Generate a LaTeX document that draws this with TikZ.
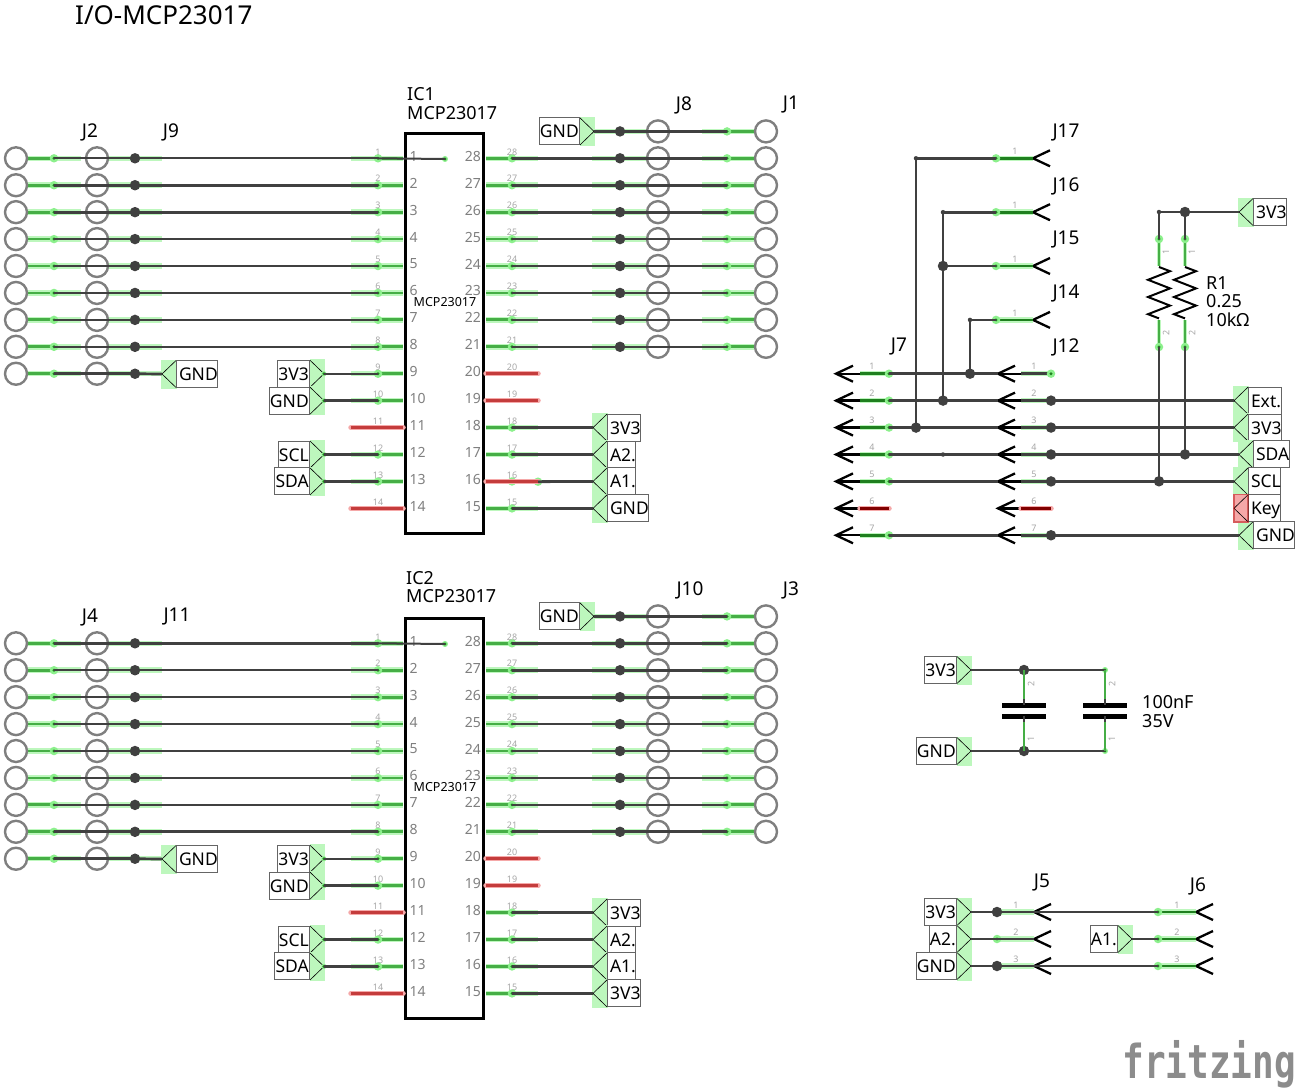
\documentclass[tikz,border=0pt]{standalone}
\usepackage{fontspec}
\usepackage{graphicx}
\setmainfont{Noto Sans}
\newfontfamily\logofont{DejaVu Sans Mono}
\definecolor{wiregray}{HTML}{404040}
\definecolor{ringgray}{HTML}{7F7F7F}
\definecolor{halogreen}{HTML}{BDF7BD}
\definecolor{leggreen}{HTML}{46AE46}
\definecolor{deepgreen}{HTML}{1F7F1F}
\definecolor{dotgreen}{HTML}{8CF08C}
\definecolor{halored}{HTML}{F5A8A8}
\definecolor{pinred}{HTML}{C43C3C}
\definecolor{numgray}{HTML}{A6A6A6}
\tikzset{
  wire/.style={draw=wiregray, line width=2.7pt},
  thinwire/.style={draw=wiregray, line width=2pt},
  halo/.style={draw=halogreen, line width=5.5pt},
  legline/.style={draw=leggreen, line width=2.8pt},
  deepleg/.style={draw=deepgreen, line width=2.8pt},
  redhalo/.style={draw=halored, line width=5.5pt, line cap=round},
  redline/.style={draw=pinred, line width=3pt},
  ring/.style={circle, draw=ringgray, line width=2.4pt, minimum size=22pt, inner sep=0pt},
  junct/.style={circle, fill=wiregray, minimum size=10.5pt, inner sep=0pt},
  tinyjunct/.style={circle, fill=wiregray, minimum size=4.5pt, inner sep=0pt},
  gdot/.style={circle, fill=dotgreen, minimum size=8.5pt, inner sep=0pt,
    path picture={\fill[deepgreen] (path picture bounding box.center) circle (1.6pt);}},
  pinnum/.style={font=\fontsize{9}{9}\selectfont, text=numgray, inner sep=0pt},
  chipnum/.style={font=\fontsize{14}{14}\selectfont, text=ringgray, inner sep=0pt},
  lbl/.style={font=\fontsize{18}{18}\selectfont, inner sep=0pt},
  jlbl/.style={font=\fontsize{19}{19}\selectfont, inner sep=0pt},
  tagbox/.style={draw=ringgray!120, fill=white, line width=1pt, inner xsep=0.7pt, inner ysep=0pt,
    minimum height=27pt, text height=13pt, text depth=0pt, font=\fontsize{17.5}{17.5}\selectfont},
  chev/.style={draw=black, line width=2.3pt},
}
% net label, text left of tip: name, tip x, y, text
\newcommand{\tagleft}[4]{%
  \fill[halogreen] (#2-14.5,#3-14.5) rectangle (#2+1,#3+14.5);
  \node[tagbox, anchor=east] (#1box) at (#2-14,#3) {#4};
  \draw[black, line width=0.6pt] (#2-14,#3-13.5) -- (#2,#3) -- (#2-14,#3+13.5);
  \coordinate (#1) at (#2,#3);}
% net label, text right of tip: fill colour, name, tip x, y, text
\newcommand{\tagright}[5][halogreen]{%
  \fill[#1] (#3-1,#4-14.5) rectangle (#3+14.5,#4+14.5);
  \node[tagbox, inner xsep=0pt, anchor=west, execute at begin node=\kern2.5pt] (#2box) at (#3+14,#4) {#5};
  \draw[black, line width=0.6pt] (#3+14,#4-13.5) -- (#3,#4) -- (#3+14,#4+13.5);
  \coordinate (#2) at (#3,#4);}
% female pin tip, opening to the right: name, x, y
\newcommand{\chevron}[3]{%
  \coordinate (#1) at (#2,#3);
  \draw[chev] (#2+17,#3-8) -- (#1) -- (#2+17,#3+8);}
% one MCP23017 with its headers: name, y offset, left wire widths, right wire widths, tag of pin 15
\newcommand{\mcpblock}[5]{%
\begin{scope}[yshift=#2]
  % chip body
  \node[draw=black, line width=3.4pt, minimum width=78pt, minimum height=400pt, inner sep=0pt] (#1) at (444.5,333.5) {};
  \node[font=\fontsize{12.5}{12.5}\selectfont, inner sep=0pt] (#1type) at (445,302) {MCP23017};
  % left headers and pins 1 to 8
  \foreach \i/\lw in {#3} {
    \pgfmathsetmacro\ry{158.3+26.93*(\i-1)}
    \draw[halo] (27,\ry) -- (81,\ry);
    \draw[halo] (108,\ry) -- (162,\ry);
    \draw[legline] (27,\ry) -- (54,\ry);
    \node[ring] (#1a\i) at (16,\ry) {};
    \node[ring] (#1b\i) at (97,\ry) {};
    \node[gdot] (#1c\i) at (54,\ry) {};
    \node[junct] (#1d\i) at (135,\ry) {};
    \pgfmathtruncatemacro\tst{\i<9 ? 1 : 0}
    \ifnum\tst=1
      \draw[halo] (351,\ry) -- (403,\ry);
      \draw[legline] (378,\ry) -- (403,\ry);
      \node[gdot] (#1p\i) at (378,\ry) {};
      \node[pinnum] (#1n\i) at (378,\ry-6.5) {\i};
      \node[chipnum, anchor=west] (#1m\i) at (409.5,\ry-2) {\i};
      \draw[draw=wiregray, line width=\lw pt] (#1c\i.center) -- (#1p\i.center);
    \else
      \draw[draw=wiregray, line width=\lw pt] (#1c\i.center) -- (#1d\i.center);
    \fi}
  % pin 1 runs on into the chip
  \node[gdot, minimum size=6pt] (#1e) at (445,159) {};
  \draw[thinwire] (#1p1.center) -- (#1e.center);
  % GND of the ninth left header
  \tagright{#1gl}{162}{374}{GND}
  \draw[wire] (#1d9.center) -- (#1gl);
  % left side pins 9 to 14
  \foreach \i/\txt/\lw in {9/3V3/2, 10/GND/2.7, 12/SCL/2.7, 13/SDA/2.7} {
    \pgfmathsetmacro\ry{158.3+26.93*(\i-1)}
    \draw[halo] (351,\ry) -- (403,\ry);
    \draw[legline] (378,\ry) -- (403,\ry);
    \node[gdot] (#1p\i) at (378,\ry) {};
    \tagleft{#1t\i}{324}{\ry}{\txt}
    \node[gdot, minimum size=5pt] (#1q\i) at (324,\ry) {};
    \draw[draw=wiregray, line width=\lw pt] (#1q\i.center) -- (#1p\i.center);
    \node[pinnum] (#1n\i) at (378,\ry-6.5) {\i};
    \node[chipnum, anchor=west] (#1m\i) at (409.5,\ry-2) {\i};}
  \foreach \i in {11,14} {
    \pgfmathsetmacro\ry{158.3+26.93*(\i-1)}
    \draw[redhalo] (351,\ry) -- (403,\ry);
    \draw[redline] (351,\ry) -- (403,\ry);
    \node[pinnum] (#1n\i) at (378,\ry-6.5) {\i};
    \node[chipnum, anchor=west] (#1m\i) at (409.5,\ry-2) {\i};}
  % GND on top of the right headers
  \draw[halo] (594,131.4) -- (646,131.4);
  \draw[halo] (702,131.4) -- (754,131.4);
  \draw[legline] (727,131.4) -- (754,131.4);
  \tagleft{#1tg}{594}{131.4}{GND}
  \node[junct] (#1dg) at (620,131.4) {};
  \node[ring] (#1rg) at (658,131.4) {};
  \node[ring] (#1sg) at (766,131.4) {};
  \node[gdot] (#1gg) at (727,131.4) {};
  \draw[wire] (#1tg) -- (#1gg.center);
  % right side pins 28 to 21 with headers
  \foreach \i/\lw in {#4} {
    \pgfmathsetmacro\ry{158.3+26.93*(\i-1)}
    \pgfmathtruncatemacro\pn{29-\i}
    \draw[halo] (486,\ry) -- (538,\ry);
    \draw[legline] (486,\ry) -- (512,\ry);
    \draw[halo] (592,\ry) -- (646,\ry);
    \draw[halo] (702,\ry) -- (754,\ry);
    \draw[legline] (727,\ry) -- (754,\ry);
    \node[gdot] (#1u\i) at (512,\ry) {};
    \node[gdot] (#1v\i) at (727,\ry) {};
    \node[junct] (#1w\i) at (620,\ry) {};
    \node[ring] (#1x\i) at (658,\ry) {};
    \node[ring] (#1y\i) at (766,\ry) {};
    \node[pinnum] (#1n\pn) at (512,\ry-6.5) {\pn};
    \node[chipnum, anchor=east] (#1m\pn) at (481,\ry-2) {\pn};
    \draw[draw=wiregray, line width=\lw pt] (#1u\i.center) -- (#1v\i.center);}
  % pins 20 and 19 stay open
  \foreach \i in {9,10} {
    \pgfmathsetmacro\ry{158.3+26.93*(\i-1)}
    \pgfmathtruncatemacro\pn{29-\i}
    \draw[redhalo] (486,\ry) -- (538,\ry);
    \draw[redline] (486,\ry) -- (538,\ry);
    \node[pinnum] (#1n\pn) at (512,\ry-6.5) {\pn};
    \node[chipnum, anchor=east] (#1m\pn) at (481,\ry-2) {\pn};}
  % pins 18 to 15 go to net labels
  \foreach \i/\txt in {11/3V3, 12/A2., 13/A1., 14/#5} {
    \pgfmathsetmacro\ry{158.3+26.93*(\i-1)}
    \pgfmathtruncatemacro\pn{29-\i}
    \draw[halo] (486,\ry) -- (538,\ry);
    \draw[legline] (486,\ry) -- (512,\ry);
    \node[gdot] (#1u\i) at (512,\ry) {};
    \tagright{#1z\i}{593}{\ry}{\txt}
    \draw[wire] (#1u\i.center) -- (#1z\i);
    \node[pinnum] (#1n\pn) at (512,\ry-6.5) {\pn};
    \node[chipnum, anchor=east] (#1m\pn) at (481,\ry-2) {\pn};}
\end{scope}}

\begin{document}
\begin{tikzpicture}[x=1pt, y=-1pt]
  \useasboundingbox (0,0) rectangle (1296,1089);
  \node[font=\fontsize{26}{26}\selectfont, anchor=west, inner sep=0pt] (title) at (75,15) {I/O-MCP23017};

  % First chip
  \mcpblock{A}{0pt}{1/2.4,2/2.7,3/2.7,4/2.7,5/2,6/2,7/2,8/2,9/2.7}{1/2.7,2/2.7,3/2.7,4/2.7,5/2,6/2,7/2,8/2}{GND}
  % Pin 16 of the first chip is left open up to the wire
  \coordinate (Ar) at (486,481.7);
  \node[gdot] (Ars) at (538,481.7) {};
  \draw[redhalo] (Ar) -- (Ars.center);
  \draw[redline] (Ar) -- (Ars.center);
  \draw[wire] (Ars.center) -- (Az13);
  \node[lbl, anchor=west] (ic1a) at (407,94) {IC1};
  \node[lbl, anchor=west] (ic1b) at (407,113) {MCP23017};
  \node[jlbl] (j2) at (90,132) {J2};
  \node[jlbl] (j9) at (171,132) {J9};
  \node[jlbl] (j8) at (684,105) {J8};
  \node[jlbl] (j1) at (791,105) {J1};

  % Second chip
  \mcpblock{B}{-485pt}{1/2.4,2/2,3/2,4/2,5/2,6/2,7/2.7,8/2.7,9/2.7}{1/2.7,2/2.7,3/2.7,4/2.7,5/2.7,6/2.7,7/2.7,8/2.7}{3V3}
  \node[lbl, anchor=west] (ic2a) at (406,578) {IC2};
  \node[lbl, anchor=west] (ic2b) at (406,596) {MCP23017};
  \node[jlbl] (j4) at (90,617) {J4};
  \node[jlbl] (j11) at (177,617) {J11};
  \node[jlbl] (j10) at (690,590) {J10};
  \node[jlbl] (j3) at (791,590) {J3};

  % Double row of seven pins
  \foreach \i in {1,...,7} {
    \pgfmathsetmacro\ry{373.7+26.93*(\i-1)}
    \chevron{Ja\i}{836}{\ry}
    \chevron{Jb\i}{998}{\ry}
    \coordinate (Jc\i) at (860,\ry);
    \coordinate (Jd\i) at (1021,\ry);
    \draw[chev] (Ja\i) -- (Jc\i);
    \draw[chev] (Jb\i) -- (Jd\i);
    \node[pinnum] (Jn\i) at (872,\ry-7) {\i};
    \node[pinnum] (Jm\i) at (1034,\ry-7) {\i};
    \ifnum\i=6
      \draw[redhalo] (Jc\i) -- (889,\ry);
      \draw[redhalo] (Jd\i) -- (1051,\ry);
      \draw[draw=black!50!red, line width=3pt] (Jc\i) -- (889,\ry);
      \draw[draw=black!50!red, line width=3pt] (Jd\i) -- (1051,\ry);
    \else
      \draw[halo] (Jc\i) -- (889,\ry);
      \draw[deepleg] (Jc\i) -- (889,\ry);
      \node[gdot] (Je\i) at (889,\ry) {};
      \draw[wire] (Je\i.center) -- (Jb\i);
      \draw[halo] (Jd\i) -- (1051,\ry);
      \draw[draw=wiregray, line width=2.7pt] (Jd\i) -- (1051,\ry);
    \fi}
  \node[gdot] (Jf1) at (1051,373.7) {};
  \foreach \i/\txt/\tip in {2/Ext./1234, 3/3V3/1234, 4/SDA/1239, 5/SCL/1234, 7/GND/1239} {
    \pgfmathsetmacro\ry{373.7+26.93*(\i-1)}
    \node[junct] (Jf\i) at (1051,\ry) {};
    \tagright{Jt\i}{\tip}{\ry}{\txt}
    \draw[wire] (Jf\i.center) -- (Jt\i);}
  \tagright[halored]{Jk}{1234}{508.3}{Key}
  \draw[draw=red!70!black, opacity=0.45, line width=1.4pt] (1234,494.5) rectangle (1248,522);
  \node[jlbl] (j7) at (899,347) {J7};
  \node[jlbl] (j12) at (1066,347) {J12};

  % Single pins above the double row
  \foreach \n/\py/\cx/\lb in {a/158.3/916/J17, b/212.2/943/J16, c/266/943/J15, d/319.9/970/J14} {
    \chevron{S\n}{1033}{\py}
    \draw[halo] (996,\py) -- (1033,\py);
    \draw[deepleg] (996,\py) -- (1033,\py);
    \node[gdot] (Sg\n) at (996,\py) {};
    \node[pinnum] (Sp\n) at (1015,\py-7) {1};
    \node[tinyjunct] (Sk\n) at (\cx,\py) {};
    \draw[wire] (Sk\n.center) -- (Sg\n.center);
    \node[jlbl] (Sl\n) at (1066,\py-26) {\lb};}
  \node[junct] (Sx3) at (916,427.6) {};
  \node[junct] (Sx2) at (943,400.6) {};
  \node[junct] (Sxc) at (943,266) {};
  \node[junct] (Sx1) at (970,373.7) {};
  \node[tinyjunct] (Sy4) at (943,454.5) {};
  \draw[wire] (Ska.center) -- (Sx3.center);
  \draw[wire] (Skb.center) -- (Sx2.center);
  \draw[wire] (Skd.center) -- (Sx1.center);

  % Pull-up resistors
  \tagright{Rt}{1239}{212}{3V3}
  \node[junct] (Rj) at (1185,212) {};
  \node[tinyjunct] (Rk) at (1159,212) {};
  \draw[wire] (Rk.center) -- (Rt);
  \foreach \rn/\rx/\rbot in {a/1159/481.3, b/1185/454.4} {
    \draw[draw=halogreen, line width=4.5pt] (\rx,239) -- (\rx,266);
    \draw[draw=halogreen, line width=4.5pt] (\rx,320) -- (\rx,347);
    \draw[legline] (\rx,239) -- (\rx,266);
    \draw[legline] (\rx,320) -- (\rx,347);
    \node[gdot] (Ra\rn) at (\rx,239) {};
    \node[gdot] (Rb\rn) at (\rx,347) {};
    \node[junct] (Rc\rn) at (\rx,\rbot) {};
    \draw[thinwire, draw=black] (\rx,267) -- ++(11,4.2) -- ++(-22,8.6) -- ++(22,8.6) -- ++(-22,8.6) -- ++(22,8.6) -- ++(-22,8.6) -- ++(11,4.2);
    \node[pinnum, rotate=90] (Rp\rn) at (\rx+7,252) {1};
    \node[pinnum, rotate=90] (Rq\rn) at (\rx+7,333) {2};
    \draw[wire] (Rb\rn.center) -- (Rc\rn.center);
    \draw[thinwire] (\rx,212) -- (Ra\rn.center);}
  \node[lbl, anchor=west] (r1a) at (1206,283) {R1};
  \node[lbl, anchor=west] (r1b) at (1206,301) {0.25};
  \node[lbl, anchor=west] (r1c) at (1206,320) {10kΩ};

  % Decoupling capacitors
  \tagleft{C3}{971}{670}{3V3}
  \tagleft{Cg}{971}{751}{GND}
  \node[junct] (Cj) at (1024,670) {};
  \node[junct] (Ck) at (1024,751) {};
  \node[gdot, minimum size=6pt] (Cl) at (1105,670) {};
  \node[gdot, minimum size=6pt] (Cm) at (1105,751) {};
  \draw[thinwire] (C3) -- (Cl.center);
  \draw[thinwire] (Cg) -- (Cm.center);
  \foreach \cx in {1024,1105} {
    \draw[draw=black, line width=5pt] (\cx-22,705) -- (\cx+22,705);
    \draw[draw=black, line width=5pt] (\cx-22,716) -- (\cx+22,716);
    \draw[legline] (\cx,670) -- (\cx,699);
    \draw[draw=wiregray, line width=2pt] (\cx,699) -- (\cx,705);
    \draw[legline] (\cx,722) -- (\cx,751);
    \draw[draw=wiregray, line width=2pt] (\cx,716) -- (\cx,722);
    \node[pinnum, rotate=90] (Cp\cx) at (\cx+7,684) {2};
    \node[pinnum, rotate=90] (Cq\cx) at (\cx+7,739) {1};}
  \node[lbl, anchor=west] (cva) at (1142,702) {100nF};
  \node[lbl, anchor=west] (cvb) at (1142,721) {35V};

  % Small headers
  \foreach \i/\txt/\ry in {1/3V3/912, 2/A2./939, 3/GND/966} {
    \tagleft{Ft\i}{971}{\ry}{\txt}
    \chevron{Fa\i}{1034}{\ry}
    \chevron{Fb\i}{1196}{\ry}
    \draw[halo] (997,\ry) -- (1034,\ry);
    \draw[halo] (1158,\ry) -- (1196,\ry);
    \draw[deepleg] (1158,\ry) -- (1196,\ry);
    \node[gdot] (Fg\i) at (1158,\ry) {};
    \node[pinnum] (Fm\i) at (1016,\ry-7) {\i};
    \node[pinnum] (Fn\i) at (1177,\ry-7) {\i};}
  \node[junct] (Fj1) at (997,912) {};
  \node[gdot] (Fj2) at (997,939) {};
  \node[junct] (Fj3) at (997,966) {};
  \foreach \i in {1,2,3} {
    \draw[wire] (Ft\i) -- (Fj\i.center) -- (Fa\i);}
  \draw[wire] (Fa1) -- (Fg1.center);
  \draw[wire] (Fa3) -- (Fg3.center);
  \tagleft{Fx}{1132}{939}{A1.}
  \draw[wire] (Fx) -- (Fg2.center);
  \node[jlbl] (j5) at (1042,883) {J5};
  \node[jlbl] (j6) at (1198,886) {J6};

  % Logo
  \node[font=\logofont\bfseries\fontsize{36}{36}\selectfont, text=ringgray!90, anchor=base east, inner sep=0pt] (logo) at (1296,1078) {\scalebox{1}[1.3]{fritzing}};
\end{tikzpicture}
\end{document}
